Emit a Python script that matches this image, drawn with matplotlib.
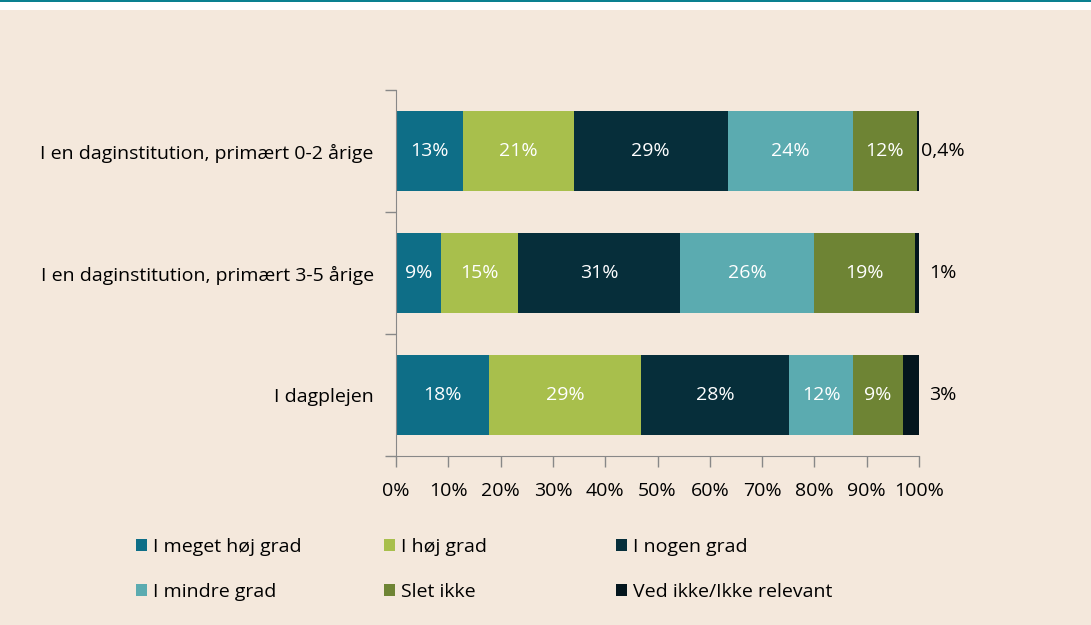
import matplotlib.pyplot as plt
from matplotlib.patches import Rectangle, Patch

plt.rcParams['font.family'] = ['Open Sans', 'DejaVu Sans']

# Data
kategorier = ['I en daginstitution, primært 0-2 årige',
              'I en daginstitution, primært 3-5 årige',
              'I dagplejen']
serier = ['I meget høj grad', 'I høj grad', 'I nogen grad',
          'I mindre grad', 'Slet ikke', 'Ved ikke/Ikke relevant']
vaerdier = [
    [12.8, 8.6, 17.8],
    [21.2, 14.7, 29.1],
    [29.4, 31.0, 28.3],
    [23.9, 25.6, 12.2],
    [12.3, 19.3, 9.5],
    [0.4, 0.8, 3.1],
]
etiketter = [
    ['13%', '9%', '18%'],
    ['21%', '15%', '29%'],
    ['29%', '31%', '28%'],
    ['24%', '26%', '12%'],
    ['12%', '19%', '9%'],
    ['0,4%', '1%', '3%'],
]
farver = ['#0E6E87', '#A8BF4C', '#062E3A', '#5BABB0', '#6E8434', '#03151D']
xticks = [0, 10, 20, 30, 40, 50, 60, 70, 80, 90, 100]

fs = 14
bg = '#F4E8DC'
fig = plt.figure(figsize=(10.91, 6.25), dpi=100, facecolor=bg)
# top border: teal line and white strip
fig.patches.append(Rectangle((0, 1 - 10 / 625), 1, 10 / 625, transform=fig.transFigure,
                             facecolor='white', edgecolor='none', zorder=0))
fig.patches.append(Rectangle((0, 1 - 2 / 625), 1, 2 / 625, transform=fig.transFigure,
                             facecolor='#0A8090', edgecolor='none', zorder=1))

ax = fig.add_axes([396 / 1091, 1 - 456 / 625, 523 / 1091, 366 / 625])
ax.set_facecolor(bg)

pos = list(range(len(kategorier)))
venstre = [0.0] * len(kategorier)
for i, navn in enumerate(serier):
    bars = ax.barh(pos, vaerdier[i], left=venstre, height=0.66, color=farver[i],
                   label=navn, edgecolor='none')
    for j, b in enumerate(bars):
        if i < len(serier) - 1:
            ax.text(venstre[j] + vaerdier[i][j] / 2, pos[j], etiketter[i][j],
                    ha='center', va='center', color='white', fontsize=fs)
        else:
            ax.text(104.5, pos[j], etiketter[i][j], ha='center', va='center',
                    color='black', fontsize=fs)
    venstre = [venstre[j] + vaerdier[i][j] for j in range(len(kategorier))]

ax.set_xlim(0, 100)
ax.set_ylim(2.5, -0.5)
ax.set_xticks(xticks)
ax.set_xticklabels([f'{t}%' for t in xticks], fontsize=fs)
ax.set_yticks(pos)
ax.set_yticklabels(kategorier, fontsize=fs)
ax.set_yticks([-0.5, 0.5, 1.5, 2.5], minor=True)
ax.tick_params(axis='y', which='major', length=0, pad=16)
ax.tick_params(axis='y', which='minor', length=8, color='#888888', width=1)
ax.tick_params(axis='x', length=8, color='#888888', width=1, pad=11)
for s in ['top', 'right']:
    ax.spines[s].set_visible(False)
for s in ['left', 'bottom']:
    ax.spines[s].set_color('#888888')

# legend in three columns
kol_x = [128 / 1091, 376 / 1091, 608 / 1091]
for k in range(3):
    handles = [Patch(facecolor=farver[k], label=serier[k]),
               Patch(facecolor=farver[k + 3], label=serier[k + 3])]
    fig.legend(handles=handles, loc='upper left',
               bbox_to_anchor=(kol_x[k], 1 - 530 / 625), frameon=False,
               fontsize=fs, handlelength=0.6, handleheight=0.6,
               handletextpad=0.3, labelspacing=1.4, borderaxespad=0)

fig.savefig('out.png', dpi=100, facecolor=bg)
